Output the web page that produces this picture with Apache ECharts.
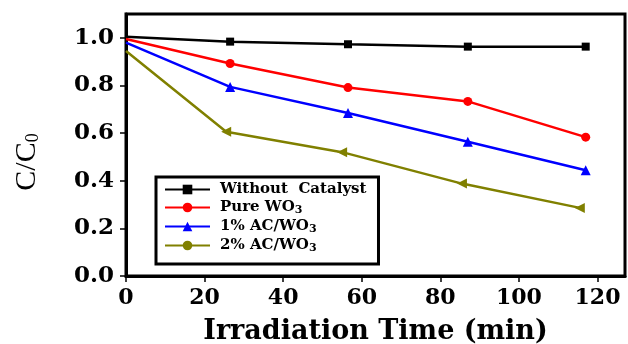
<!DOCTYPE html>
<html>
<head>
<meta charset="utf-8">
<script src="https://cdn.jsdelivr.net/npm/echarts@6/dist/echarts.min.js"></script>
<style>
html,body{margin:0;padding:0;background:#fff;}
#main{width:628px;height:344px;}
</style>
</head>
<body>
<div id="main"></div>
<script>
// data (time in min, C/C0)
var seriesNames=['Without  Catalyst','Pure WO3','1% AC/WO3','2% AC/WO3'];
var timeMain=[0,26.5,56.5,87,117];
var timeOlive=[0,25.5,55,85.5,115.5];
var noCatalyst=[1.005,0.984,0.973,0.963,0.963];
var pureWO3=[0.995,0.892,0.791,0.733,0.583];
var ac1WO3=[0.98,0.794,0.684,0.564,0.444];
var ac2WO3=[0.945,0.606,0.52,0.388,0.286];
var xTicks=[0,20,40,60,80,100,120];
var yTicks=[0,0.2,0.4,0.6,0.8,1.0];

var colors=['#000000','#ff0000','#0000ff','#808000'];

// first point (t=0) has no marker in the figure
function pairs(xs,ys,sym,rot){
	var out=[];
	for(var i=0;i<xs.length;i++){
		var item={value:[xs[i],ys[i]]};
		if(i==0){
			item.symbol='none';
		}
		else if(sym){
			item.symbol=sym;
			item.symbolRotate=rot;
			item.symbolSize=10;
		}
		out.push(item);
	}
	return out;
}

var serifB='DejaVu Serif';
var myChart=echarts.init(document.getElementById('main'));
var option={
	animation:false,
	backgroundColor:'#fff',
	grid:{left:126,right:3,top:14,bottom:68,outerBoundsMode:'none',containLabel:false,show:true,borderColor:'#000',borderWidth:3},
	legend:{
		orient:'vertical',
		left:156,
		top:177,
		padding:[5,12,10,8],
		borderColor:'#000',
		borderWidth:3,
		backgroundColor:'#fff',
		itemWidth:45,
		itemHeight:12,
		itemGap:3,
		symbolRotate:0,
		data:seriesNames,
		formatter:function(name){
			return name.replace('WO3','WO{sub|3}');
		},
		textStyle:{
			fontFamily:serifB,
			fontWeight:'bold',
			fontSize:15,
			color:'#000',
			padding:[0,0,0,5],
			rich:{
				sub:{fontFamily:serifB,fontWeight:'bold',fontSize:11,color:'#000',verticalAlign:'bottom',padding:[6,0,0,0]}
			}
		}
	},
	xAxis:{
		type:'value',
		min:0,
		max:127,
		name:'Irradiation Time (min)',
		nameLocation:'middle',
		nameGap:42,
		nameTextStyle:{fontFamily:serifB,fontWeight:'bold',fontSize:27,color:'#000'},
		splitLine:{show:false},
		axisLine:{lineStyle:{color:'#000',width:3}},
		axisTick:{customValues:xTicks,length:6,lineStyle:{color:'#000',width:1.5}},
		axisLabel:{customValues:xTicks,margin:11,fontFamily:serifB,fontWeight:'bold',fontSize:22,color:'#000'}
	},
	yAxis:{
		type:'value',
		min:0,
		max:1.1,
		name:'C/C{sub|0}',
		nameLocation:'middle',
		nameGap:84,
		nameTextStyle:{
			fontFamily:'Liberation Serif',fontSize:30,color:'#000',padding:[0,34,0,0],
			rich:{sub:{fontFamily:'Liberation Serif',fontSize:18,color:'#000',verticalAlign:'bottom',padding:[10,0,0,0]}}
		},
		splitLine:{show:false},
		axisLine:{lineStyle:{color:'#000',width:3}},
		axisTick:{customValues:yTicks,length:6,lineStyle:{color:'#000',width:1.5}},
		axisLabel:{
			customValues:yTicks,
			margin:12,
			fontFamily:serifB,fontWeight:'bold',fontSize:23,color:'#000',
			formatter:function(v){return v.toFixed(1);}
		}
	},
	series:[
		{name:seriesNames[0],type:'line',data:pairs(timeMain,noCatalyst),symbol:'rect',symbolSize:8,color:colors[0],lineStyle:{width:2.5}},
		{name:seriesNames[1],type:'line',data:pairs(timeMain,pureWO3),symbol:'circle',symbolSize:9,color:colors[1],lineStyle:{width:2.5}},
		{name:seriesNames[2],type:'line',data:pairs(timeMain,ac1WO3),symbol:'triangle',symbolSize:10,color:colors[2],lineStyle:{width:2.5}},
		// olive points are left-pointing triangles, the legend keeps the circle
		{name:seriesNames[3],type:'line',data:pairs(timeOlive,ac2WO3,'triangle',90),symbol:'circle',symbolSize:9,color:colors[3],lineStyle:{width:2.5}}
	]
};
myChart.setOption(option);
</script>
</body>
</html>
